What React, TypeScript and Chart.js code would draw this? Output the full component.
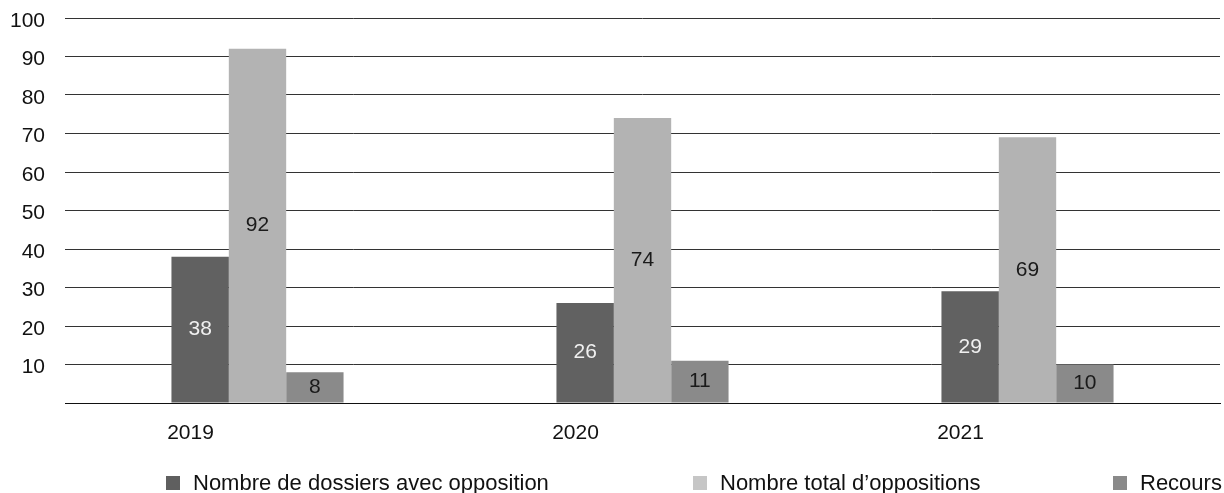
import { useEffect, useRef } from "react";
import { Chart, registerables } from "chart.js";

Chart.register(...registerables);

const categories = ["2019", "2020", "2021"];
const dossiersAvecOpposition = [38, 26, 29];
const totalOppositions = [92, 74, 69];
const recours = [8, 11, 10];
const seriesNames = [
  "Nombre de dossiers avec opposition",
  "Nombre total d\u2019oppositions",
  "Recours",
];
const seriesColors = ["#616161", "#b3b3b3", "#8a8a8a"];
const legendColors = ["#5f5f5f", "#c6c6c6", "#8a8a8a"];
const labelColors = ["#f0f0f0", "#1a1a1a", "#1a1a1a"];
const yMin = 0;
const yMax = 100;
const yStep = 10;

const FONT = '"Liberation Sans", Arial, Helvetica, sans-serif';

const valueLabels = {
  id: "valueLabels",
  afterDatasetsDraw(chart: any) {
    const ctx = chart.ctx;
    ctx.save();
    ctx.font = `21px ${FONT}`;
    ctx.textAlign = "center";
    ctx.textBaseline = "middle";
    chart.data.datasets.forEach((ds: any, i: number) => {
      const meta = chart.getDatasetMeta(i);
      meta.data.forEach((el: any, j: number) => {
        ctx.fillStyle = labelColors[i];
        ctx.fillText(String(ds.data[j]), el.x, (el.y + el.base) / 2);
      });
    });
    ctx.restore();
  },
};

const bottomLegend = {
  id: "bottomLegend",
  afterDraw(chart: any) {
    const ctx = chart.ctx;
    const xs = [166, 693, 1113];
    const y = 483;
    ctx.save();
    ctx.font = `22px ${FONT}`;
    ctx.textBaseline = "middle";
    ctx.textAlign = "left";
    seriesNames.forEach((name, i) => {
      ctx.fillStyle = legendColors[i];
      ctx.fillRect(xs[i], y - 7, 14, 14);
      ctx.fillStyle = "#111";
      ctx.fillText(name, xs[i] + 27, y + 1);
    });
    ctx.restore();
  },
};

export default function App() {
  const ref = useRef<HTMLCanvasElement>(null);
  useEffect(() => {
    if (!ref.current) return;
    const chart = new Chart(ref.current, {
      type: "bar",
      data: {
        labels: categories,
        datasets: [dossiersAvecOpposition, totalOppositions, recours].map((d, i) => ({
          label: seriesNames[i],
          data: d,
          backgroundColor: seriesColors[i],
          borderWidth: 0,
          barPercentage: 1,
          categoryPercentage: 0.447,
        })),
      },
      options: {
        animation: false,
        responsive: true,
        maintainAspectRatio: false,
        layout: { padding: { top: 18, right: 4, left: 0, bottom: 0 } },
        plugins: {
          legend: { display: false },
          tooltip: { enabled: false },
        },
        scales: {
          x: {
            grid: { display: false, drawTicks: false },
            border: { display: true, color: "#111", width: 1 },
            ticks: {
              color: "#111",
              font: { family: FONT, size: 21 },
              padding: 18,
              labelOffset: -67,
              maxRotation: 0,
            },
            afterFit: (s: any) => {
              s.height = 90;
            },
          },
          y: {
            min: yMin,
            max: yMax,
            grid: { color: "#333", lineWidth: 1, drawTicks: false },
            border: { display: false },
            ticks: {
              stepSize: yStep,
              color: "#111",
              font: { family: FONT, size: 21 },
              padding: 20,
              labelOffset: 3,
              callback: (v: any) => (v === 0 ? "" : String(v)),
            },
            afterFit: (s: any) => {
              s.width = 65;
              s.paddingTop = 0;
              s.paddingBottom = 0;
            },
          },
        },
      },
      plugins: [valueLabels, bottomLegend],
    });
    return () => chart.destroy();
  }, []);
  return (
    <div style={{ position: "absolute", left: 0, top: 0, width: 1224, height: 493, background: "#fff" }}>
      <canvas ref={ref} />
    </div>
  );
}
